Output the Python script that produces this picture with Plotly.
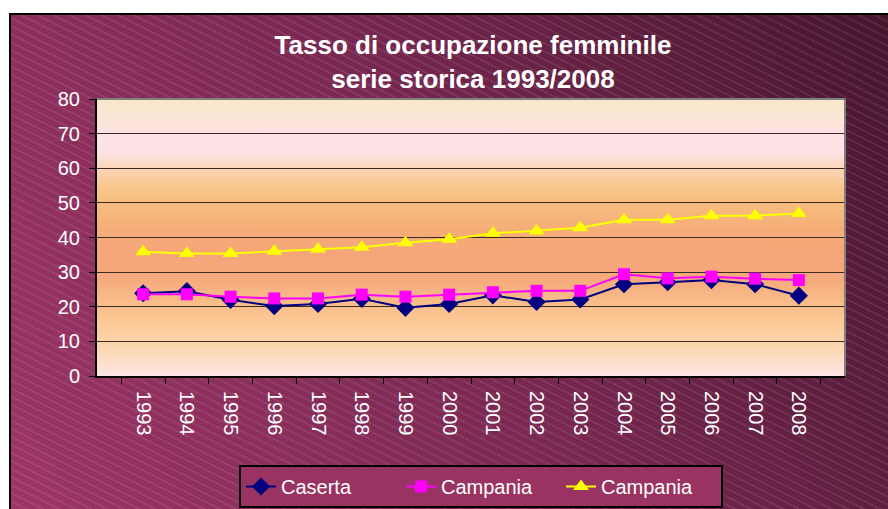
import base64
import plotly.graph_objects as go

# Female employment rate, 1993-2008
years = [str(y) for y in range(1993, 2009)]
caserta = [23.9, 24.5, 22.0, 20.2, 20.8, 22.3, 19.7, 20.8, 23.3, 21.4, 22.1, 26.5, 27.1, 27.7, 26.5, 23.2]
campania = [23.6, 23.6, 22.9, 22.4, 22.4, 23.5, 22.9, 23.5, 24.2, 24.6, 24.6, 29.4, 28.2, 28.7, 28.1, 27.7]
campania_tot = [35.9, 35.4, 35.4, 36.0, 36.6, 37.2, 38.5, 39.5, 41.2, 41.9, 42.8, 45.1, 45.1, 46.3, 46.3, 46.9]

y_ticks = list(range(0, 81, 10))

W, H = 888, 509
ML, MR, MT, MB = 97, 43, 99, 133
PW, PH = W - ML - MR, H - MT - MB
FONT = "Arial, Liberation Sans, sans-serif"


def svg_uri(svg):
    return "data:image/svg+xml;base64," + base64.b64encode(svg.encode()).decode()


# Chart-area backdrop: diagonal purple gradient with a light hatch
BX, BY = 9, 13
BW, BH = W - BX, H - BY
bg_svg = f"""<svg xmlns="http://www.w3.org/2000/svg" width="{BW}" height="{BH}" viewBox="0 0 {BW} {BH}" preserveAspectRatio="none">
<defs>
<linearGradient id="g" gradientUnits="userSpaceOnUse" x1="0" y1="{BH}" x2="{BW}" y2="0">
<stop offset="0" stop-color="#9d3566"/>
<stop offset="0.5" stop-color="#7a2852"/>
<stop offset="1" stop-color="#46162d"/>
</linearGradient>
<pattern id="h" patternUnits="userSpaceOnUse" width="12" height="7.2" patternTransform="rotate(26.57)">
<line x1="0" y1="3.6" x2="12" y2="3.6" stroke="#ffffff" stroke-opacity="0.27" stroke-width="0.9" stroke-dasharray="1.5 1"/>
</pattern>
</defs>
<rect x="0" y="0" width="{BW}" height="{BH}" fill="url(#g)"/>
<rect x="0" y="0" width="{BW}" height="{BH}" fill="url(#h)"/>
<line x1="0" y1="1" x2="{BW}" y2="1" stroke="#000" stroke-width="2"/>
<line x1="1" y1="0" x2="1" y2="{BH}" stroke="#000" stroke-width="2"/>
</svg>"""

# Plot-area fill: vertical sunset gradient (value -> colour)
plot_stops = [
    (80, "#f9e7c9"), (72, "#fce4dc"), (70, "#fde3e8"), (64, "#fde2e4"),
    (60, "#fbd5b8"), (55, "#f9c78e"), (50, "#f7bd7e"), (42, "#f5ad77"),
    (35, "#f5a579"), (28, "#f6aa7d"), (22, "#f8bb88"), (15, "#fbca96"),
    (8, "#fcd8b2"), (3, "#fde1d2"), (0, "#fde5e5"),
]
stops_xml = "".join(
    f'<stop offset="{(80 - v) / 80:.4f}" stop-color="{c}"/>' for v, c in plot_stops
)
plot_svg = f"""<svg xmlns="http://www.w3.org/2000/svg" width="{PW}" height="{PH}" viewBox="0 0 {PW} {PH}" preserveAspectRatio="none">
<defs><linearGradient id="p" x1="0" y1="0" x2="0" y2="1">{stops_xml}</linearGradient></defs>
<rect x="0" y="0" width="{PW}" height="{PH}" fill="url(#p)"/>
</svg>"""

fig = go.Figure()

series = [
    ("Caserta", caserta, "#000080", "diamond", 14),
    ("Campania", campania, "#ff00ff", "square", 12),
    ("Campania", campania_tot, "#ffff00", "triangle-up", 14),
]
for name, vals, color, symbol, size in series:
    fig.add_trace(go.Scatter(
        x=years, y=vals, name=name, mode="lines+markers",
        line=dict(color=color, width=2),
        marker=dict(symbol=symbol, size=size, color=color, line=dict(width=0)),
    ))

fig.update_layout(
    width=W, height=H,
    margin=dict(l=ML, r=MR, t=MT, b=MB, pad=0, autoexpand=False),
    paper_bgcolor="#ffffff",
    plot_bgcolor="rgba(0,0,0,0)",
    font=dict(family=FONT, color="#ffffff", size=20),
    title=dict(
        text="<b>Tasso di occupazione femminile<br>serie storica 1993/2008</b>",
        font=dict(size=26, color="#ffffff", family=FONT),
        xref="container", x=473 / W, xanchor="center",
        yref="container", y=1 - 54 / H, yanchor="middle",
    ),
    images=[
        dict(source=svg_uri(bg_svg), xref="paper", yref="paper",
             x=(BX - ML) / PW, y=(H - MB - BY) / PH,
             sizex=BW / PW, sizey=BH / PH,
             xanchor="left", yanchor="top", sizing="stretch", layer="below"),
        dict(source=svg_uri(plot_svg), xref="paper", yref="paper",
             x=0, y=1, sizex=1, sizey=1,
             xanchor="left", yanchor="top", sizing="stretch", layer="below"),
    ],
    shapes=[
        dict(type="line", xref="paper", yref="paper", x0=0, x1=1, y0=1, y1=1,
             line=dict(color="#808080", width=2), layer="above"),
        dict(type="line", xref="paper", yref="paper", x0=1, x1=1, y0=0, y1=1,
             line=dict(color="#808080", width=2), layer="above"),
    ],
    showlegend=True,
    legend=dict(
        orientation="h", x=(481 - ML) / PW, xanchor="center",
        y=-(465 - (H - MB)) / PH, yanchor="top",
        bgcolor="#993462", bordercolor="#000000", borderwidth=2,
        font=dict(size=20, color="#ffffff", family=FONT),
        entrywidth=115, entrywidthmode="pixels",
        traceorder="normal",
    ),
)

fig.update_xaxes(
    type="category", categoryorder="array", categoryarray=years,
    showgrid=False, showline=True, linecolor="#000000", linewidth=2,
    ticks="outside", tickson="boundaries", ticklen=6, tickcolor="#000000",
    tickangle=90, ticklabelstandoff=9,
    tickfont=dict(size=20, color="#ffffff", family=FONT),
    zeroline=False, automargin=False,
)
fig.update_yaxes(
    range=[0, 80], tickvals=y_ticks, showgrid=True, gridcolor="#3a2a22", gridwidth=1,
    showline=True, linecolor="#000000", linewidth=2,
    ticks="outside", ticklen=6, tickcolor="#000000", ticklabelstandoff=5,
    tickfont=dict(size=20, color="#ffffff", family=FONT),
    zeroline=False, automargin=False,
)

fig.write_html("out.html")
